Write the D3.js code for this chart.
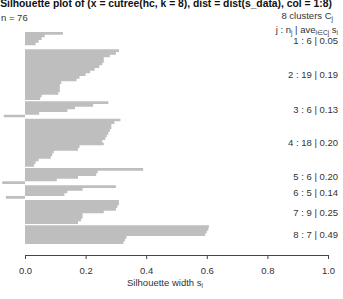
<!DOCTYPE html>
<html>
<head>
<meta charset="utf-8">
<script src="https://cdn.jsdelivr.net/npm/d3@7"></script>
<style>
  body { margin: 0; background: #fff; }
  svg { display: block; font-family: 'Liberation Sans', Arial, sans-serif; }
  .bar { fill: #bebebe; stroke: none; }
  .lab { fill: #333; font-size: 9.5px; }
  .axis text { fill: #333; font-size: 9.5px; font-family: 'Liberation Sans', Arial, sans-serif; }
  .axis line, .axis path { stroke: #444; }
</style>
</head>
<body>
<svg id="chart" width="343" height="299"></svg>
<script>
// silhouette widths per cluster, top to bottom
const clusterIds = [1, 2, 3, 4, 5, 6, 7, 8]
const clusterSizes = [6, 19, 6, 18, 6, 5, 9, 7]
const clusterAvg = ['0.05', '0.19', '0.13', '0.20', '0.20', '0.14', '0.25', '0.49']
const widths1 = [0.125, 0.065, 0.055, 0.045, 0.035, 0.0]
const widths2 = [0.31, 0.30, 0.28, 0.26, 0.26, 0.255, 0.245, 0.23, 0.215, 0.20,
  0.18, 0.17, 0.12, 0.115, 0.115, 0.115, 0.11, 0.055, 0.05]
const widths3 = [0.275, 0.225, 0.165, 0.14, 0.047, -0.07]
const widths4 = [0.315, 0.295, 0.285, 0.285, 0.28, 0.275, 0.27, 0.265, 0.255, 0.26,
  0.18, 0.175, 0.095, 0.09, 0.085, 0.045, 0.035, 0.03]
const widths5 = [0.39, 0.24, 0.235, 0.175, 0.105, -0.075]
const widths6 = [0.30, 0.19, 0.14, 0.13, -0.063]
const widths7 = [0.31, 0.31, 0.305, 0.30, 0.26, 0.19, 0.19, 0.185, 0.175]
const widths8 = [0.607, 0.605, 0.60, 0.595, 0.335, 0.33, 0.325]
const xTicks = [0, 0.2, 0.4, 0.6, 0.8, 1.0]
const allWidths = [widths1, widths2, widths3, widths4, widths5, widths6, widths7, widths8]

const gap = 0.5 // barplot space between clusters

// build one row list per cluster, bar i sits at [pos, pos + 1]
const groups = []
let pos = 0
let n = 0
allWidths.forEach((ws, k) => {
  if (k > 0) pos += gap
  const start = pos
  const bars = ws.map((w) => ({ s: w, pos: pos++ }))
  // closing point for the step outline
  bars.push({ s: ws[ws.length - 1], pos: pos })
  n += ws.length
  groups.push({ id: clusterIds[k], n: clusterSizes[k], ave: clusterAvg[k], mid: (start + pos) / 2, bars: bars })
})
const total = pos

const svg = d3.select('#chart')

const x = d3.scaleLinear().domain([0, 1]).range([25, 328])
const y = d3.scaleLinear().domain([0, total]).range([32, 244])

// bars: each cluster is one stepped area so neighbouring bars have no seams
const barArea = d3.area()
  .y((d) => y(d.pos))
  .x0(x(0))
  .x1((d) => x(d.s))
  .curve(d3.curveStepBefore)

svg.append('g').selectAll('path')
  .data(groups)
  .enter().append('path')
  .attr('class', 'bar')
  .attr('d', (d) => barArea(d.bars))

// x axis
const xAxis = d3.axisBottom(x)
  .tickValues(xTicks)
  .tickFormat(d3.format('.1f'))
  .tickSize(4)
  .tickSizeOuter(0)
  .tickPadding(8)
svg.append('g')
  .attr('class', 'axis')
  .attr('transform', 'translate(0,255)')
  .call(xAxis)

// title
const title = svg.append('text')
  .attr('x', 166)
  .attr('y', 7)
  .attr('text-anchor', 'middle')
  .style('font-weight', 'bold')
  .style('font-size', '10px')
  .attr('fill', '#111')
  .text('Silhouette plot of (x = cutree(hc, k = 8), dist = dist(s_data), col = 1:8)')
const tl = title.node().getComputedTextLength()
title.style('font-size', (10 * 332 / tl) + 'px')

// n = 76
svg.append('text').attr('class', 'lab')
  .attr('x', 1).attr('y', 21)
  .text('n = ' + n)

// right side header
const h1 = svg.append('text').attr('class', 'lab')
  .attr('x', 333).attr('y', 19).attr('text-anchor', 'end')
h1.append('tspan').text(clusterIds.length + '  clusters  C')
h1.append('tspan').attr('font-size', '6.5px').attr('dy', 2).text('j')

const h2 = svg.append('text').attr('class', 'lab')
  .attr('x', 338).attr('y', 33).attr('text-anchor', 'end')
h2.append('tspan').text('j :  n')
h2.append('tspan').attr('font-size', '6.5px').attr('dy', 2).text('j')
h2.append('tspan').attr('dy', -2).text(' | ave')
h2.append('tspan').attr('font-size', '6.5px').attr('dy', 2).text('i\u2208Cj')
h2.append('tspan').attr('dy', -2).text(' s')
h2.append('tspan').attr('font-size', '6.5px').attr('dy', 2).text('i')

// cluster labels
svg.append('g').selectAll('text')
  .data(groups)
  .enter().append('text')
  .attr('class', 'lab')
  .attr('x', 338)
  .attr('y', (d) => y(d.mid) + 3.5)
  .attr('text-anchor', 'end')
  .text((d) => d.id + ' :  ' + d.n + '  |  ' + d.ave)

// x label
const xl = svg.append('text').attr('class', 'lab')
  .attr('x', 165).attr('y', 286).attr('text-anchor', 'middle')
xl.append('tspan').text('Silhouette width s')
xl.append('tspan').attr('font-size', '6.5px').attr('dy', 2).text('i')
</script>
</body>
</html>
